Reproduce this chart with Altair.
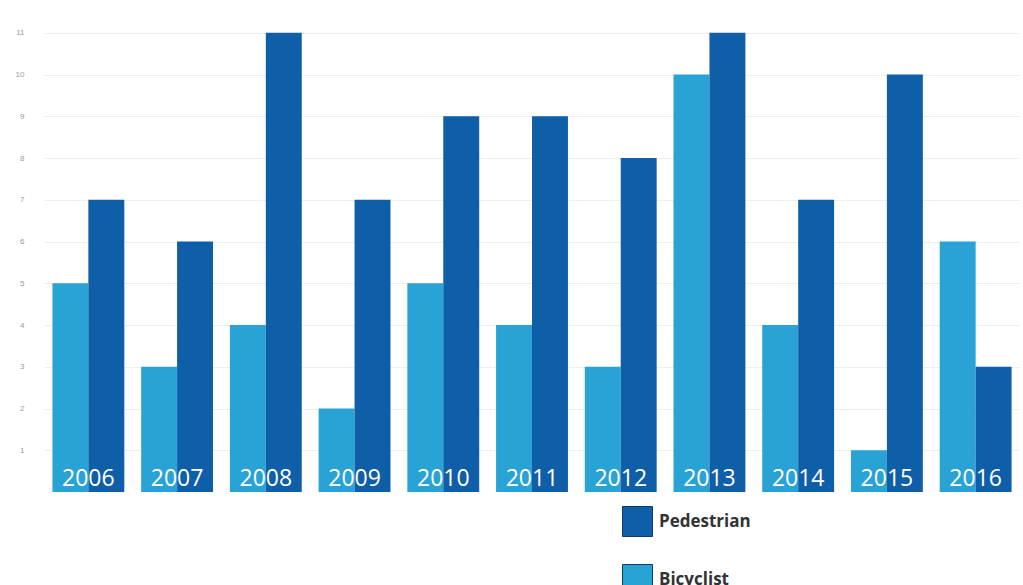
import altair as alt
import pandas as pd

years = ["2006", "2007", "2008", "2009", "2010", "2011", "2012", "2013", "2014", "2015", "2016"]
bicyclist = [5, 3, 4, 2, 5, 4, 3, 10, 4, 1, 6]
pedestrian = [7, 6, 11, 7, 9, 9, 8, 11, 7, 10, 3]
y_ticks = [1, 2, 3, 4, 5, 6, 7, 8, 9, 10, 11]

rows = []
for y, b, p in zip(years, bicyclist, pedestrian):
    rows.append({"year": y, "type": "Bicyclist", "value": b})
    rows.append({"year": y, "type": "Pedestrian", "value": p})
df = pd.DataFrame(rows)
labels = pd.DataFrame({"year": years})

W, H = 976, 480

xenc = alt.X("year:N", sort=years, axis=None,
             scale=alt.Scale(paddingInner=0.19, paddingOuter=0.095))

bars = alt.Chart(df).mark_bar().encode(
    x=xenc,
    xOffset=alt.XOffset("type:N", sort=["Bicyclist", "Pedestrian"],
                        scale=alt.Scale(paddingInner=0, paddingOuter=0)),
    y=alt.Y("value:Q", scale=alt.Scale(domain=[0, 11.5], nice=False),
            axis=alt.Axis(values=y_ticks, title=None, domain=False, ticks=False,
                          labelColor="#999999", labelFontSize=8, labelPadding=20,
                          gridColor="#eeeeee", gridWidth=1)),
    color=alt.Color("type:N",
                    scale=alt.Scale(domain=["Pedestrian", "Bicyclist"],
                                    range=["#0e5ea8", "#29a3d6"]),
                    legend=alt.Legend(title=None, orient="none", legendX=578, legendY=494,
                                      symbolType="square", symbolSize=900,
                                      symbolStrokeColor="#123a66", symbolStrokeWidth=1,
                                      rowPadding=23, labelFontSize=17, labelFontWeight="bold",
                                      labelColor="#333333", labelFont="Open Sans",
                                      labelOffset=6, padding=0)),
)

text = alt.Chart(labels).mark_text(color="white", fontSize=23, font="Open Sans",
                                   baseline="bottom", align="center", dy=-1).encode(
    x=alt.X("year:N", sort=years, axis=None,
            scale=alt.Scale(paddingInner=0.19, paddingOuter=0.095)),
    y=alt.value(H),
    text="year:N",
)

chart = (bars + text).properties(
    width=W, height=H,
    autosize=alt.AutoSizeParams(type="none"),
    padding={"left": 44, "top": 12, "right": 3, "bottom": 93},
).configure(background="white", view=alt.ViewConfig(stroke=None),
            axis=alt.AxisConfig(domain=False))

chart.save("out.html", embed_options={"renderer": "svg", "actions": False})
